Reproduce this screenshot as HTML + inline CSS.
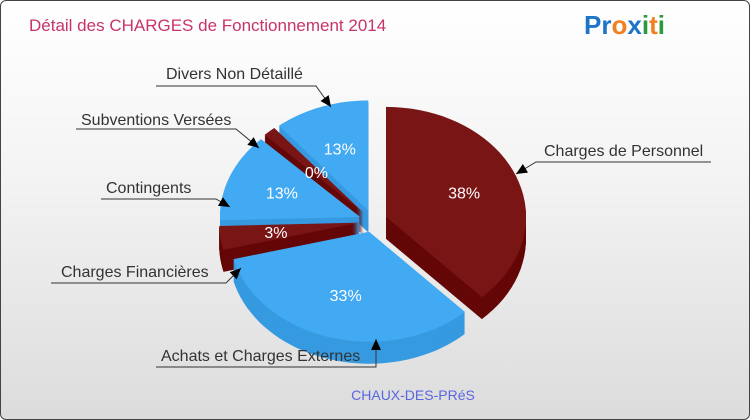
<!DOCTYPE html>
<html><head><meta charset="utf-8"><style>
html,body{margin:0;padding:0}
body{width:750px;height:420px;overflow:hidden;font-family:"Liberation Sans",sans-serif}
#wrap{position:absolute;left:0;top:0;width:748px;height:418px;border:1px solid #444;border-radius:6px;background:linear-gradient(#ffffff 0%,#f4f4f4 40%,#dcdcdc 100%);overflow:hidden}
</style></head><body>
<div id="wrap">
<svg id="svg" width="750" height="420">
<text x="28" y="30" font-size="17" fill="#c8336b">Détail des CHARGES de Fonctionnement 2014</text>
<g font-size="26" font-weight="bold" font-family="Liberation Sans, sans-serif">
<text x="583" y="33"><tspan fill="#1d74c8">Pr</tspan><tspan fill="#f08020">o</tspan><tspan fill="#1d74c8">x</tspan><tspan fill="#2a9a3a">i</tspan><tspan fill="#f08020">t</tspan><tspan fill="#2a9a3a">i</tspan></text>
</g>
<text x="412" y="399" font-size="14" fill="#5a66e0" text-anchor="middle">CHAUX-DES-PRéS</text>
<g id="pie"></g>
<g id="labels"></g>
</svg>
</div>
<script>
const categories=["Charges de Personnel","Achats et Charges Externes","Charges Financières","Contingents","Subventions Versées","Divers Non Détaillé"];
const values=[38,33,3.5,13,1.5,11];
const pctLabels=["38%","33%","3%","13%","0%","13%"];
const colors=["#7a1515","#42aaf2","#7a1515","#42aaf2","#7a1515","#42aaf2"];
const sides=["#640707","#379ae0","#640707","#379ae0","#640707","#379ae0"];
const NS="http://www.w3.org/2000/svg";
const cx=372,cy=220,rx=140,ry=110,depth=22,ex=14;
const pie=document.getElementById('pie');
const total=values.reduce((a,b)=>a+b,0);
function pt(a,r1,r2,ox,oy){return [ox+r1*Math.sin(a),oy-r2*Math.cos(a)];}
function slicePath(a0,a1,ox,oy){
  let d=`M${ox},${oy}`;const n=40;
  for(let i=0;i<=n;i++){const a=a0+(a1-a0)*i/n;const p=pt(a,rx,ry,ox,oy);d+=`L${p[0].toFixed(1)},${p[1].toFixed(1)}`;}
  return d+'Z';
}
let acc=0;const slices=[];
values.forEach((v,i)=>{const a0=acc/total*2*Math.PI;acc+=v;const a1=acc/total*2*Math.PI;const m=(a0+a1)/2;
  slices.push({a0,a1,m,ox:cx+ex*Math.sin(m),oy:cy-ex*Math.cos(m)*0.8});});
for(let L=depth;L>=0;L--){
  slices.forEach((s,i)=>{
    const p=document.createElementNS(NS,'path');
    p.setAttribute('d',slicePath(s.a0,s.a1,s.ox,s.oy+L));
    p.setAttribute('fill',L===0?colors[i]:sides[i]);
    if(L===0){
      
      
    }
    pie.appendChild(p);
  });
}
slices.forEach((s,i)=>{
  const r=i===4?0.5:0.6;
  const p=pt(s.m,rx*r,ry*r,s.ox,s.oy);
  const t=document.createElementNS(NS,'text');
  t.setAttribute('x',p[0]);t.setAttribute('y',p[1]+6);
  t.setAttribute('text-anchor','middle');t.setAttribute('fill','#fff');t.setAttribute('font-size','16');
  
  
  t.textContent=pctLabels[i];pie.appendChild(t);
});
const lab=document.getElementById('labels');
const ann=[
 {i:0,tx:543,ty:155,l1:[710,161],l2:[535,161],tip:[515,173]},
 {i:1,tx:160,ty:360,l1:[155,366],l2:[375,366],tip:[375,338]},
 {i:2,tx:60,ty:276,l1:[50,282],l2:[225,282],tip:[240,267]},
 {i:3,tx:105,ty:192,l1:[100,198],l2:[215,198],tip:[229,206]},
 {i:4,tx:80,ty:124,l1:[75,128],l2:[235,128],tip:[258,147]},
 {i:5,tx:165,ty:78,l1:[155,85],l2:[315,85],tip:[330,106]}
];
ann.forEach(a=>{
  const t=document.createElementNS(NS,'text');
  t.setAttribute('x',a.tx);t.setAttribute('y',a.ty);t.setAttribute('font-size','16');t.setAttribute('fill','#333');
  
  
  t.textContent=categories[a.i];lab.appendChild(t);
  const pl=document.createElementNS(NS,'polyline');
  pl.setAttribute('points',`${a.l1} ${a.l2} ${a.tip}`);pl.setAttribute('fill','none');pl.setAttribute('stroke','#333');pl.setAttribute('stroke-width','1');
  
  
  lab.appendChild(pl);
  const dx=a.tip[0]-a.l2[0],dy=a.tip[1]-a.l2[1],len=Math.hypot(dx,dy),ux=dx/len,uy=dy/len;
  const bx=a.tip[0]-ux*11,by=a.tip[1]-uy*11;
  const ar=document.createElementNS(NS,'polygon');
  ar.setAttribute('points',`${a.tip} ${bx-uy*5},${by+ux*5} ${bx+uy*5},${by-ux*5}`);ar.setAttribute('fill','#000');
  
  
  lab.appendChild(ar);
});
</script>
</body></html>
